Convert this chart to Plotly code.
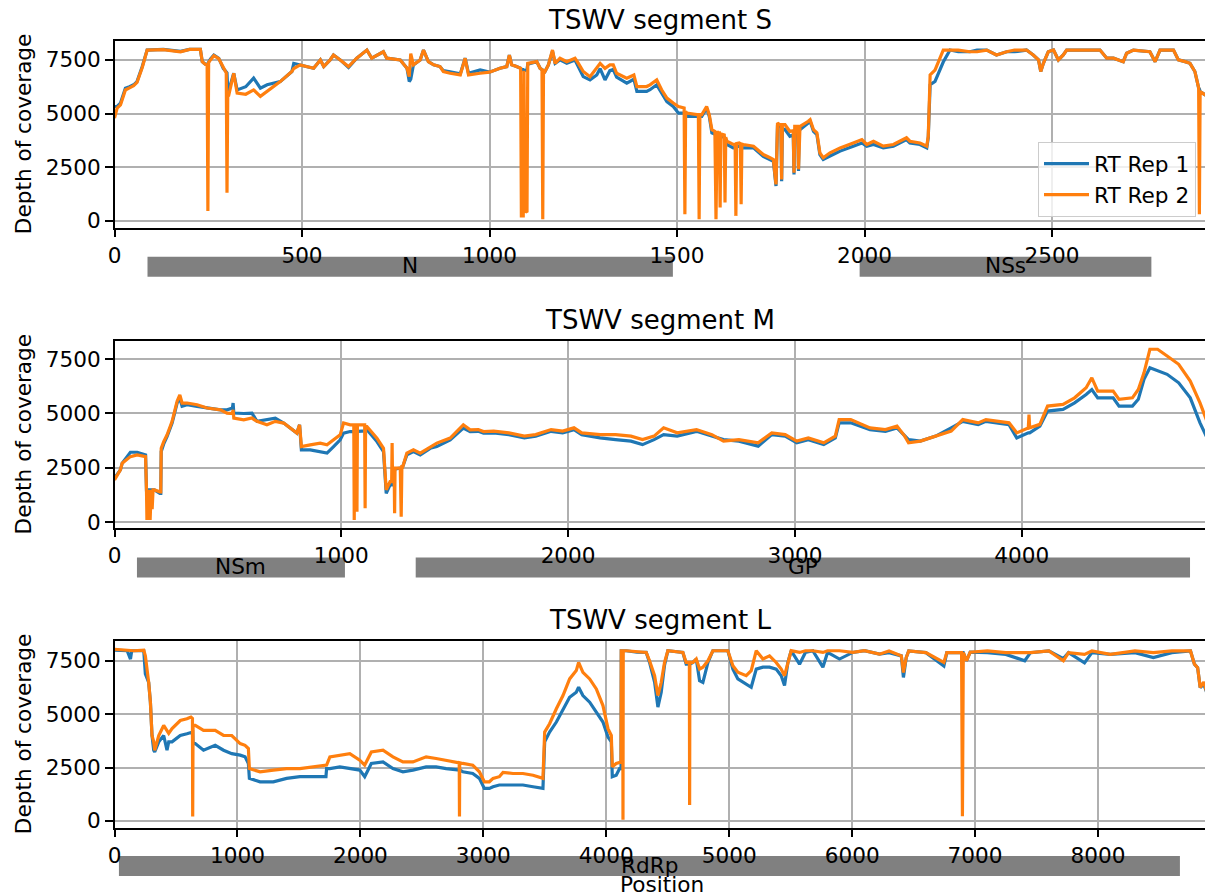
import plotly.graph_objects as go

W, H = 1205, 896

# ---------------- segment S ----------------
pos_S = [0, 7, 16, 29, 40, 51, 60, 74, 87, 130, 176, 200, 229, 234, 242, 247, 249, 251, 256, 265,
         278, 290, 296, 298, 300, 302, 305, 318, 327, 350, 371, 389, 407, 442, 473, 478, 495, 531, 549, 558,
         575, 584, 602, 624, 646, 673, 686, 717, 726, 762, 780, 786, 790, 797, 815, 824, 837, 851, 868, 877,
         895, 922, 935, 944, 975, 1000, 1028, 1046, 1053, 1059, 1072, 1083, 1085, 1090, 1092, 1094, 1100, 1102, 1126, 1135,
         1140, 1142, 1144, 1148, 1157, 1168, 1175, 1188, 1206, 1228, 1237, 1250, 1268, 1286, 1295, 1308, 1321, 1330, 1339, 1366,
         1385, 1393, 1419, 1428, 1446, 1459, 1473, 1490, 1504, 1519, 1521, 1523, 1526, 1553, 1557, 1559, 1561, 1566, 1579, 1586,
         1593, 1601, 1604, 1607, 1610, 1613, 1615, 1617, 1624, 1626, 1628, 1630, 1633, 1650, 1655, 1657, 1659, 1666, 1669, 1671,
         1673, 1677, 1704, 1730, 1748, 1757, 1764, 1768, 1775, 1777, 1779, 1781, 1788, 1801, 1810, 1812, 1814, 1817, 1822, 1824,
         1826, 1828, 1850, 1855, 1864, 1873, 1881, 1890, 1908, 1935, 1970, 1993, 2006, 2024, 2050, 2077, 2112, 2121, 2148, 2166,
         2170, 2175, 2188, 2210, 2228, 2250, 2281, 2300, 2326, 2352, 2379, 2400, 2432, 2450, 2464, 2470, 2477, 2490, 2504, 2517,
         2530, 2539, 2593, 2628, 2646, 2664, 2690, 2699, 2717, 2761, 2775, 2788, 2824, 2837, 2855, 2868, 2881, 2888, 2891, 2893,
         2895, 2908, 2916]
rep1_S = [5330, 5330, 5490, 6180, 6250, 6340, 6490, 7190, 7960, 7990, 7900, 7990, 7990, 7420, 7300, 7300, 7300, 7400, 7550, 7730,
          7580, 7110, 6960, 6900, 6900, 6100, 6100, 6880, 6100, 6250, 6650, 6180, 6340, 6490, 6960, 7340, 7270, 7110, 7500, 7190,
          7500, 7730, 7500, 7150, 7580, 7960, 7580, 7880, 7580, 7500, 7110, 6490, 6600, 7270, 7500, 7960, 7420, 7270, 7190, 7000,
          6950, 6850, 7580, 6880, 7030, 6930, 7110, 7190, 7730, 7270, 7190, 7110, 7050, 7050, 7000, 7000, 7050, 7300, 7420, 7110,
          7050, 7000, 7000, 6960, 7270, 7900, 7340, 7500, 7340, 7500, 7190, 6720, 6570, 6800, 7100, 6570, 7000, 7050, 6700, 6420,
          6600, 6030, 6030, 6110, 6340, 5950, 5560, 5330, 5020, 5020, 5020, 4950, 4870, 4870, 4870, 4870, 4870, 4870, 5250, 4870,
          4100, 4020, 4020, 4020, 3950, 3950, 3950, 3950, 3900, 3900, 3850, 3800, 3560, 3400, 3400, 3400, 3450, 3480, 3450, 3450,
          3420, 3400, 3400, 3000, 2860, 2780, 1620, 4400, 4400, 4400, 1850, 4300, 4250, 3940, 4000, 2160, 4200, 4250, 4250, 2320,
          4250, 4250, 4560, 4640, 4170, 4020, 3090, 2860, 3020, 3250, 3480, 3630, 3480, 3560, 3400, 3480, 3790, 3630, 3560, 3400,
          3870, 6340, 6500, 7400, 7960, 7880, 7880, 7960, 7960, 7730, 7880, 7880, 7960, 7730, 7500, 6960, 7340, 7880, 7960, 7500,
          7730, 7960, 7960, 7960, 7580, 7580, 7420, 7810, 7960, 7880, 7420, 7960, 7960, 7500, 7420, 7340, 6960, 6340, 6200, 6150,
          6030, 5875, 5800]
rep2_S = [4790, 5250, 5400, 6100, 6200, 6300, 6450, 7150, 7960, 7980, 7880, 7990, 7990, 7420, 7300, 7280, 464, 7380, 7500, 7700,
          7560, 7110, 6960, 6900, 1314, 5900, 5880, 6880, 5950, 5900, 6100, 5800, 6030, 6490, 6960, 7100, 7270, 7110, 7500, 7190,
          7500, 7730, 7500, 7190, 7580, 7960, 7580, 7880, 7580, 7500, 7110, 6720, 7800, 7270, 7500, 7960, 7420, 7270, 7190, 6960,
          6880, 6800, 7580, 6800, 6880, 6930, 7110, 7190, 7730, 7270, 7190, 7110, 232, 232, 7000, 464, 400, 7340, 7420, 7110,
          7050, 77, 7000, 6960, 7270, 7960, 7340, 7580, 7420, 7580, 7340, 6960, 6720, 7110, 7340, 7110, 7270, 7270, 6880, 6650,
          6800, 6260, 6260, 6340, 6570, 6110, 5720, 5490, 5330, 5256, 309, 5100, 5025, 4947, 4947, 77, 4947, 4947, 5330, 4947,
          4250, 4170, 77, 4170, 4100, 4100, 618, 4050, 4020, 4000, 850, 3900, 3710, 3560, 3560, 232, 3600, 3630, 3600, 773,
          3580, 3560, 3480, 3090, 2940, 2860, 1700, 4560, 4480, 4480, 1930, 4480, 4480, 4170, 4200, 2240, 4400, 4400, 4400, 2400,
          4400, 4400, 4640, 4715, 4250, 4100, 3170, 2940, 3170, 3400, 3630, 3790, 3560, 3710, 3480, 3560, 3870, 3710, 3630, 3480,
          3940, 6800, 7030, 7960, 7960, 7960, 7880, 7880, 7960, 7730, 7880, 7960, 7960, 7730, 7500, 6960, 7340, 7880, 7960, 7500,
          7730, 7960, 7960, 7960, 7580, 7580, 7420, 7810, 7960, 7880, 7420, 7960, 7960, 7500, 7420, 7340, 6960, 6340, 6200, 309,
          6030, 5875, 5800]

# ---------------- segment M ----------------
pos_M = [0, 12, 26, 34, 50, 70, 100, 137, 141, 143, 146, 150, 153, 157, 162, 166, 170, 176, 200, 204,
         206, 217, 232, 254, 276, 288, 298, 320, 364, 408, 467, 496, 520, 523, 526, 570, 606, 628, 672, 709,
         746, 775, 804, 816, 824, 863, 907, 937, 966, 995, 1010, 1039, 1055, 1057, 1059, 1067, 1069, 1071, 1103, 1105,
         1107, 1113, 1157, 1186, 1198, 1215, 1222, 1224, 1226, 1233, 1235, 1237, 1260, 1264, 1267, 1271, 1289, 1318, 1348, 1392,
         1421, 1480, 1538, 1568, 1604, 1627, 1672, 1739, 1807, 1857, 1925, 1976, 2026, 2060, 2141, 2209, 2277, 2328, 2379, 2421,
         2481, 2566, 2634, 2685, 2753, 2838, 2898, 2957, 3008, 3059, 3127, 3178, 3195, 3246, 3331, 3399, 3450, 3484, 3501, 3553,
         3621, 3689, 3740, 3808, 3842, 3944, 3978, 4029, 4032, 4035, 4080, 4114, 4182, 4233, 4284, 4309, 4335, 4403, 4429, 4488,
         4514, 4539, 4565, 4599, 4641, 4692, 4743, 4786, 4808, 4821]
rep1_M = [2030, 2180, 2410, 2720, 2950, 3220, 3220, 3100, 1490, 1490, 1490, 1490, 1490, 1490, 1490, 1490, 1490, 1490, 1335, 1335,
          3250, 3600, 3950, 4560, 5480, 5700, 5330, 5400, 5330, 5250, 5170, 5170, 5250, 5480, 5020, 5000, 5020, 4640, 4710, 4790,
          4560, 4330, 4100, 4480, 3330, 3330, 3250, 3180, 3480, 3790, 4100, 4170, 4170, 4170, 4170, 4170, 4170, 4170, 4200, 4200,
          4200, 4250, 3710, 3250, 1335, 1720, 1720, 1800, 1800, 2300, 2400, 2450, 2490, 2490, 2500, 2560, 3100, 3250, 3100, 3400,
          3480, 3790, 4330, 4170, 4180, 4100, 4110, 4030, 3880, 3960, 4180, 4110, 4260, 4030, 3880, 3800, 3730, 3570, 3800, 4030,
          3960, 4180, 3960, 3800, 3730, 3500, 4030, 3960, 3650, 3800, 3570, 3880, 4570, 4570, 4260, 4180, 4340, 3960, 3800, 3730,
          3960, 4340, 4640, 4490, 4640, 4490, 3880, 4110, 4110, 4110, 4420, 5110, 5190, 5490, 5875, 6100, 5720, 5720, 5340, 5340,
          5650, 6570, 7100, 6950, 6800, 6410, 5720, 4570, 4110, 3800]
rep2_M = [1950, 2180, 2410, 2720, 2850, 3020, 3100, 3020, 1490, 107, 1490, 250, 1490, 107, 1490, 600, 1490, 1490, 1400, 1400,
          3400, 3710, 4020, 4640, 5560, 5850, 5480, 5480, 5400, 5250, 5170, 5020, 5000, 5170, 4790, 4710, 4790, 4640, 4480, 4640,
          4560, 4330, 4100, 4480, 3480, 3560, 3640, 3560, 3790, 4020, 4560, 4480, 4480, 107, 4480, 4480, 490, 4480, 4480, 645,
          4400, 4400, 3870, 3400, 1490, 1870, 1870, 3640, 1900, 2400, 415, 2490, 2490, 260, 2560, 2560, 3180, 3330, 3180, 3480,
          3640, 3870, 4480, 4250, 4260, 4170, 4190, 4110, 3960, 4030, 4260, 4190, 4340, 4110, 4030, 4030, 3960, 3800, 3960, 4340,
          4110, 4260, 4030, 3730, 3800, 3650, 4110, 4030, 3730, 3880, 3650, 3960, 4720, 4720, 4340, 4260, 4420, 3960, 3650, 3730,
          3960, 4190, 4720, 4570, 4720, 4570, 4110, 4340, 4950, 4340, 4500, 5340, 5420, 5720, 6180, 6640, 6030, 6030, 5650, 5720,
          6100, 6870, 7950, 7950, 7640, 7260, 6490, 5490, 4880, 4500]

# ---------------- segment L ----------------
pos_L = [0, 103, 130, 140, 157, 238, 251, 278, 292, 305, 319, 327, 360, 400, 427, 441, 468, 535, 589, 622,
         634, 636, 639, 657, 724, 819, 887, 954, 1022, 1062, 1089, 1097, 1184, 1292, 1400, 1508, 1616, 1720, 1725, 1752,
         1833, 1914, 1995, 2035, 2089, 2184, 2265, 2346, 2427, 2535, 2616, 2698, 2779, 2804, 2806, 2808, 2833, 2914, 2968, 3008,
         3049, 3079, 3130, 3160, 3241, 3322, 3404, 3485, 3499, 3539, 3594, 3648, 3702, 3756, 3775, 3810, 3865, 3919, 3973, 4014,
         4041, 4049, 4081, 4108, 4120, 4122, 4134, 4136, 4138, 4163, 4250, 4325, 4352, 4393, 4420, 4447, 4474, 4501, 4623, 4650,
         4676, 4678, 4680, 4705, 4732, 4759, 4786, 4827, 4867, 4989, 5030, 5070, 5138, 5179, 5220, 5274, 5328, 5382, 5423, 5450,
         5477, 5504, 5572, 5620, 5680, 5762, 5800, 5897, 6005, 6100, 6222, 6300, 6400, 6417, 6440, 6460, 6600, 6746, 6770, 6890,
         6897, 6904, 6930, 6960, 7100, 7250, 7404, 7450, 7600, 7718, 7760, 7890, 7950, 8100, 8300, 8450, 8600, 8752, 8784, 8810,
         8831, 8860, 8897]
rep1_L = [8000, 7970, 7580, 7970, 7970, 7970, 6880, 6490, 5560, 4000, 3310, 3230, 3700, 4000, 3310, 3700, 3700, 4000, 4080, 4160,
          4160, 4160, 3620, 3620, 3310, 3540, 3310, 3150, 3080, 3000, 2690, 1990, 1830, 1830, 1990, 2070, 2070, 2070, 2450, 2450,
          2530, 2450, 2380, 2070, 2690, 2760, 2450, 2300, 2380, 2530, 2530, 2450, 2380, 2380, 2380, 2380, 2300, 2220, 1990, 1520,
          1520, 1600, 1680, 1680, 1680, 1680, 1600, 1520, 3700, 4160, 4630, 5250, 5790, 6030, 6260, 5870, 5560, 5090, 4630, 3930,
          3700, 2070, 2140, 2450, 2450, 7970, 7970, 7970, 7970, 7970, 7900, 7890, 7420, 6500, 5330, 6030, 7300, 7970, 7890, 7340,
          7340, 7340, 7340, 7420, 7580, 6570, 6490, 7420, 7970, 7970, 7110, 6650, 6410, 6260, 7110, 7200, 7200, 7110, 6800, 6340,
          7420, 7970, 7340, 7890, 7970, 7200, 7890, 7580, 7890, 7970, 7810, 7880, 7730, 6720, 7650, 7960, 7880, 7250, 7880, 7880,
          7880, 7880, 7500, 7900, 7880, 7800, 7500, 7880, 7960, 7600, 7880, 7400, 7880, 7800, 7880, 7650, 7880, 7960, 7340, 7180,
          6250, 6400, 5800]
rep2_L = [8040, 8000, 8000, 8000, 7970, 8000, 7730, 6490, 5560, 4000, 3700, 3300, 4000, 4470, 4240, 4100, 4320, 4700, 4780, 4860,
          4800, 200, 4470, 4470, 4240, 4240, 4000, 4000, 3620, 3540, 3390, 2450, 2300, 2380, 2450, 2450, 2530, 2610, 2610, 3000,
          3080, 3150, 2840, 2610, 3230, 3310, 3000, 2760, 2760, 3000, 2920, 2840, 2760, 2720, 200, 2720, 2690, 2610, 2300, 1830,
          1830, 1990, 2070, 2270, 2220, 2220, 2140, 1990, 4160, 4550, 5250, 5870, 6650, 7040, 7420, 6960, 6650, 6180, 5400, 4320,
          4000, 2530, 2690, 2760, 2760, 7970, 7970, 50, 7970, 7970, 7930, 7890, 7500, 6800, 5870, 6490, 7420, 7970, 7890, 7420,
          7420, 745, 7420, 7420, 7580, 7110, 7200, 7500, 7970, 7970, 7270, 6960, 6800, 7040, 7970, 7580, 7730, 7420, 7110, 6800,
          7420, 7970, 7890, 7970, 7970, 7890, 7970, 7970, 7890, 7970, 7810, 7960, 7730, 6950, 7650, 7960, 7880, 7420, 7880, 7880,
          218, 7880, 7500, 7900, 7960, 7880, 7880, 7880, 7960, 7500, 7880, 7800, 7960, 7800, 7960, 7880, 7960, 7960, 7340, 7180,
          6250, 6500, 5800]

# ---------------- genes ----------------
gene_names_S = ["N", "NSs"]
gene_start_S = [88, 1987]
gene_end_S = [1489, 2765]
gene_names_M = ["NSm", "GP"]
gene_start_M = [99, 1328]
gene_end_M = [1016, 4742]
gene_names_L = ["RdRp"]
gene_start_L = [36]
gene_end_L = [8666]

titles = ["TSWV segment S", "TSWV segment M", "TSWV segment L"]
series_names = ["RT Rep 1", "RT Rep 2"]
colors = ["#1f77b4", "#ff7f0e"]

# ---------------- layout geometry (pixels) ----------------
FONT = "DejaVu Sans"
FS = 21.6
x_left = 114.5
panels = [
    dict(top=40.7, bottom=227.7, xr=[0, 2908], yr=[-320, 8396], dtick=500, bar=(256.7, 276.7)),
    dict(top=341.0, bottom=528.0, xr=[0, 4808], yr=[-260, 8330], dtick=1000, bar=(557.5, 577.5)),
    dict(top=640.7, bottom=827.7, xr=[0, 8870], yr=[-320, 8440], dtick=1000, bar=(856.0, 876.0)),
]
data = [(pos_S, rep1_S, rep2_S), (pos_M, rep1_M, rep2_M), (pos_L, rep1_L, rep2_L)]
genes = [(gene_names_S, gene_start_S, gene_end_S),
         (gene_names_M, gene_start_M, gene_end_M),
         (gene_names_L, gene_start_L, gene_end_L)]

def py(p):
    return 1 - p / H

fig = go.Figure()
shapes = []
annotations = []
for i, (pan, (pos, r1, r2), (gn, gs, ge)) in enumerate(zip(panels, data, genes)):
    k = "" if i == 0 else str(i + 1)
    xa, ya = "x" + k, "y" + k
    for j, vals in enumerate([r1, r2]):
        fig.add_trace(go.Scatter(x=pos, y=vals, mode="lines", name=series_names[j],
                                 line=dict(color=colors[j], width=3.2),
                                 showlegend=(i == 0), xaxis=xa, yaxis=ya))
    common = dict(showline=True, linecolor="black", linewidth=1.7, ticks="outside", ticklen=7.5,
                  tickwidth=1.7, tickcolor="black", showgrid=True, gridcolor="#b0b0b0", gridwidth=1.7,
                  zeroline=False, tickfont=dict(family=FONT, size=FS, color="black"), automargin=False)
    fig.update_layout(**{
        "xaxis" + k: dict(domain=[x_left / W, 1], range=pan["xr"], dtick=pan["dtick"], tick0=0,
                          anchor=ya, mirror=True, **common),
        "yaxis" + k: dict(domain=[py(pan["bottom"]), py(pan["top"])], range=pan["yr"],
                          tickvals=[0, 2500, 5000, 7500], anchor=xa, **common),
    })
    b0, b1 = pan["bar"]
    for name, s, e in zip(gn, gs, ge):
        shapes.append(dict(type="rect", xref=xa, yref="paper", x0=s, x1=e, y0=py(b1), y1=py(b0),
                           fillcolor="#808080", line=dict(width=0), layer="below"))
        annotations.append(dict(xref=xa, yref="paper", x=(s + e) / 2, y=py((b0 + b1) / 2 - 1),
                                text=name, showarrow=False, xanchor="center", yanchor="middle",
                                font=dict(family=FONT, size=FS, color="black")))
    annotations.append(dict(xref="paper", yref="paper", x=660 / W, y=py(pan["top"] - 21),
                            text=titles[i], showarrow=False, xanchor="center", yanchor="middle",
                            font=dict(family=FONT, size=26, color="black")))
    annotations.append(dict(xref="paper", yref="paper", x=23 / W, y=py((pan["top"] + pan["bottom"]) / 2),
                            text="Depth of coverage", textangle=-90, showarrow=False,
                            xanchor="center", yanchor="middle",
                            font=dict(family=FONT, size=FS, color="black")))

annotations.append(dict(xref="paper", yref="paper", x=662 / W, y=py(884), text="Position",
                        showarrow=False, xanchor="center", yanchor="middle",
                        font=dict(family=FONT, size=FS, color="black")))

fig.update_layout(
    width=W, height=H, margin=dict(l=0, r=0, t=0, b=0),
    paper_bgcolor="white", plot_bgcolor="white",
    shapes=shapes, annotations=annotations,
    legend=dict(x=1196 / W, y=py(217), xanchor="right", yanchor="bottom",
                bgcolor="rgba(255,255,255,0.8)", bordercolor="#cccccc", borderwidth=1,
                itemwidth=45,
                font=dict(family=FONT, size=FS, color="black")),
    font=dict(family=FONT, size=FS, color="black"),
)

fig.write_html("out.html")
